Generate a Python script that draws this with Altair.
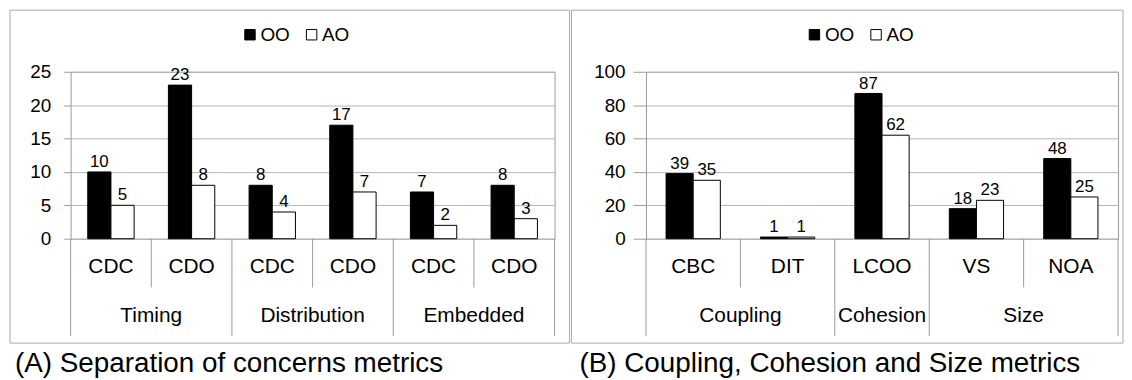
import altair as alt
import pandas as pd

FONT = "Liberation Sans"
GRID = "#b4b4b4"
AXIS = "#9a9a9a"
BOX = "#a8a8a8"

series = ["OO", "AO"]

# Panel A: separation of concerns metrics
a_groups = ["Timing", "Timing", "Distribution", "Distribution", "Embedded", "Embedded"]
a_metrics = ["CDC", "CDO", "CDC", "CDO", "CDC", "CDO"]
a_oo = [10, 23, 8, 17, 7, 8]
a_ao = [5, 8, 4, 7, 2, 3]
a_ticks = [0, 5, 10, 15, 20, 25]
a_caption = "(A) Separation of concerns metrics"

# Panel B: coupling, cohesion and size metrics
b_groups = ["Coupling", "Coupling", "Cohesion", "Size", "Size"]
b_metrics = ["CBC", "DIT", "LCOO", "VS", "NOA"]
b_oo = [39, 1, 87, 18, 48]
b_ao = [35, 1, 62, 23, 25]
b_ticks = [0, 20, 40, 60, 80, 100]
b_caption = "(B) Coupling, Cohesion and Size metrics"

H = 168


def panel(groups, metrics, oo, ao, ticks, width, caption, tick_size, label_pad,
          legend_x, box_left, box_right, cap_x):
    keys = [f"{g}|{m}" for g, m in zip(groups, metrics)]
    rows = []
    for k, g, m, v1, v2 in zip(keys, groups, metrics, oo, ao):
        rows.append({"key": k, "group": g, "metric": m, "series": "OO", "value": v1})
        rows.append({"key": k, "group": g, "metric": m, "series": "AO", "value": v2})
    bars_df = pd.DataFrame(rows)
    cols_df = pd.DataFrame({"key": keys, "group": groups, "metric": metrics})

    grp_order = []
    for g in groups:
        if g not in grp_order:
            grp_order.append(g)
    grp_rows = []
    for g in grp_order:
        ks = [k for k, gg in zip(keys, groups) if gg == g]
        grp_rows.append({"key": ks[0], "group": g, "span": len(ks)})
    grp_df = pd.DataFrame(grp_rows)
    inner_df = pd.DataFrame({"key": [k for i, k in enumerate(keys)
                                     if i > 0 and groups[i] == groups[i - 1]]})
    end_df = pd.DataFrame({"key": [keys[-1]]})

    xs = alt.Scale(paddingInner=0, paddingOuter=0)

    def X(bp=None):
        if bp is None:
            return alt.X("key:N", sort=keys, scale=xs, axis=None)
        return alt.X("key:N", sort=keys, scale=xs, axis=None, bandPosition=bp)

    xo = alt.XOffset("series:N", sort=series,
                     scale=alt.Scale(domain=series, paddingInner=0, paddingOuter=0.74))
    y = alt.Y("value:Q", scale=alt.Scale(domain=[0, ticks[-1]], nice=False),
              axis=alt.Axis(values=ticks, title=None, grid=True, gridColor=GRID,
                            tickSize=tick_size, tickColor=AXIS, domain=False,
                            labelPadding=label_pad, labelFontSize=19, labelFont=FONT,
                            labelColor="black", labelOverlap=False))

    bars = alt.Chart(bars_df).mark_bar(stroke="black", strokeWidth=1).encode(
        x=X(), xOffset=xo, y=y,
        color=alt.Color("series:N", sort=series,
                        scale=alt.Scale(domain=series, range=["#000000", "#ffffff"]),
                        legend=alt.Legend(orient="none", legendX=legend_x, legendY=-47,
                                          direction="horizontal", title=None,
                                          symbolType="square", symbolSize=110,
                                          symbolStrokeColor="black", symbolStrokeWidth=1,
                                          labelFontSize=19, labelFont=FONT,
                                          labelColor="black", labelOffset=1,
                                          columnPadding=12, padding=0)),
    )
    vals = alt.Chart(bars_df).mark_text(baseline="alphabetic", dy=-5, fontSize=17,
                                        font=FONT, color="black").encode(
        x=X(), xOffset=xo, y=y, text="value:Q")

    inner = alt.Chart(inner_df).mark_rule(color=AXIS).encode(
        x=X(0), y=alt.value(H), y2=alt.value(217))
    gsep = alt.Chart(grp_df).mark_rule(color=AXIS).encode(
        x=X(0), y=alt.value(H), y2=alt.value(266))
    gend = alt.Chart(end_df).mark_rule(color=AXIS).encode(
        x=X(1), y=alt.value(H), y2=alt.value(266))

    sub = alt.Chart(cols_df).mark_text(fontSize=21, font=FONT, color="black",
                                       baseline="middle", align="center").encode(
        x=X(0.5), y=alt.value(196), text="metric:N")

    glabels = []
    for span in sorted(set(grp_df["span"])):
        glabels.append(
            alt.Chart(grp_df[grp_df["span"] == span]).mark_text(
                fontSize=21, font=FONT, color="black", baseline="middle", align="center"
            ).encode(x=X(span / 2), y=alt.value(246), text="group:N"))

    box = alt.Chart(pd.DataFrame({"b": [0]})).mark_rect(
        fillOpacity=0, stroke=BOX, strokeWidth=1).encode(
        x=alt.value(box_left), x2=alt.value(box_right),
        y=alt.value(-62), y2=alt.value(273))

    cap = alt.Chart(pd.DataFrame({"t": [caption]})).mark_text(
        align="left", baseline="alphabetic", fontSize=28, font=FONT, color="black"
    ).encode(x=alt.value(cap_x), y=alt.value(302), text="t:N")

    return alt.layer(box, bars, vals, inner, gsep, gend, sub, *glabels, cap).properties(
        width=width, height=H)


left = panel(a_groups, a_metrics, a_oo, a_ao, a_ticks, 487, a_caption, 7, 13,
             171, -61, 502, -56)
right = panel(b_groups, b_metrics, b_oo, b_ao, b_ticks, 475, b_caption, 13, 8,
              160, -75, 480, -67)

chart = alt.hconcat(left, right, spacing=0).resolve_scale(
    x="independent", y="independent", color="independent", xOffset="independent"
).resolve_legend(color="independent").properties(
    padding={"left": 1, "top": 0, "right": 0, "bottom": 0}
).configure_view(stroke=AXIS, strokeWidth=1)

chart.save("out.html", embed_options={"renderer": "svg", "actions": False})
